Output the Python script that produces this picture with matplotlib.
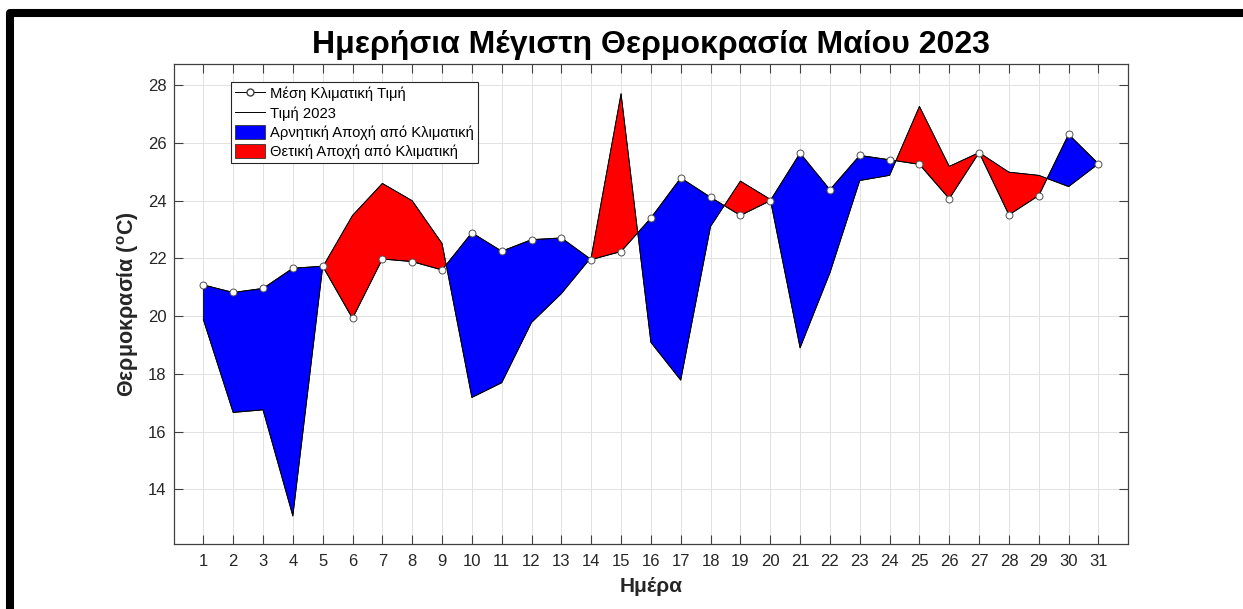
import numpy as np
import matplotlib
matplotlib.use("Agg")
import matplotlib.pyplot as plt
from matplotlib.lines import Line2D
from matplotlib.patches import Patch

days = list(range(1, 32))
climate = [21.08, 20.82, 20.96, 21.66, 21.73, 19.92, 21.98, 21.89, 21.60, 22.89,
           22.25, 22.65, 22.71, 21.96, 22.24, 23.40, 24.79, 24.12, 23.49, 24.00,
           25.65, 24.38, 25.57, 25.42, 25.26, 24.07, 25.67, 23.51, 24.18, 26.30, 25.28]
values_2023 = [19.88, 16.66, 16.75, 13.07, 21.70, 23.49, 24.60, 24.00, 22.52, 17.18,
               17.69, 19.78, 20.78, 22.04, 27.71, 19.09, 17.78, 23.11, 24.68, 24.05,
               18.90, 21.50, 24.70, 24.88, 27.27, 25.19, 25.67, 24.99, 24.88, 24.49, 25.28]
y_ticks = [14, 16, 18, 20, 22, 24, 26, 28]

title = "Ημερήσια Μέγιστη Θερμοκρασία Μαίου 2023"
xlabel = "Ημέρα"
ylabel = r"Θερμοκρασία ($\mathbf{^{o}}$C)"
leg_labels = ["Μέση Κλιματική Τιμή", "Τιμή 2023",
              "Αρνητική Αποχή από Κλιματική", "Θετική Αποχή από Κλιματική"]

plt.rcParams['font.family'] = ['Liberation Sans', 'DejaVu Sans']
plt.rcParams['mathtext.fontset'] = 'custom'
plt.rcParams['mathtext.rm'] = 'Liberation Sans'
plt.rcParams['mathtext.bf'] = 'Liberation Sans:bold'

W, H = 1243, 609
fig = plt.figure(figsize=(W / 100, H / 100), dpi=100)
fig.patch.set_facecolor('white')

ax = fig.add_axes([173.5 / W, 1 - 544 / H, (1128.3 - 173.5) / W, (544 - 64.3) / H])

x = np.array(days, dtype=float)
c = np.array(climate)
v = np.array(values_2023)

ax.fill_between(x, c, v, where=v <= c, interpolate=True, facecolor='#0000ff',
                edgecolor='black', linewidth=0.6, zorder=2)
ax.fill_between(x, c, v, where=v >= c, interpolate=True, facecolor='#ff0000',
                edgecolor='black', linewidth=0.6, zorder=2)
ax.plot(x, v, color='black', linewidth=0.6, zorder=3)
ax.plot(x, c, color='black', linewidth=0.7, marker='o', markersize=5,
        markerfacecolor='white', markeredgecolor='#505050', markeredgewidth=0.7, zorder=4)

ax.set_xlim(0, 32)
ax.set_ylim(12.1, 28.73)
ax.set_xticks(days)
ax.set_yticks(y_ticks)
ax.grid(True, color='#e2e2e2', linewidth=0.7)
ax.set_axisbelow(True)
axc = '#262626'
for s in ax.spines.values():
    s.set_color('#404040')
    s.set_linewidth(0.9)
ax.tick_params(direction='in', length=6.5, width=0.8, color='#404040',
               labelcolor=axc, labelsize=12, top=True, right=True)
ax.tick_params(axis='y', pad=5)
ax.tick_params(axis='x', pad=7)

ax.set_title(title, fontsize=23, fontweight='bold', color='black', pad=8)
ax.set_xlabel(xlabel, fontsize=15, fontweight='bold', color=axc, labelpad=6)
ax.set_ylabel(ylabel, fontsize=15.5, fontweight='bold', color=axc, labelpad=5)

handles = [
    Line2D([], [], color='black', linewidth=0.7, marker='o', markersize=5,
           markerfacecolor='white', markeredgecolor='#404040'),
    Line2D([], [], color='black', linewidth=0.7),
    Patch(facecolor='#0000ff', edgecolor='#333333', linewidth=0.6),
    Patch(facecolor='#ff0000', edgecolor='#333333', linewidth=0.6),
]
leg = ax.legend(handles, leg_labels, loc='upper left',
                bbox_to_anchor=((231 - 173.5) / (1128.3 - 173.5), (544 - 82) / (544 - 64.3)),
                fontsize=10.6, frameon=True, fancybox=False, framealpha=1,
                edgecolor='#262626', handlelength=2.0, handleheight=1.05,
                handletextpad=0.35, labelspacing=0.3, borderpad=0.3,
                borderaxespad=0)
leg.get_frame().set_linewidth(0.8)

# figure frame (black border at top and left)
fig.add_artist(Line2D([10 / W, 10 / W, 1.02], [-0.02, 1 - 13 / H, 1 - 13 / H],
                      transform=fig.transFigure, color='black', linewidth=5.8,
                      solid_joinstyle='round', solid_capstyle='butt'))

fig.savefig('out.png', dpi=100, facecolor='white')
